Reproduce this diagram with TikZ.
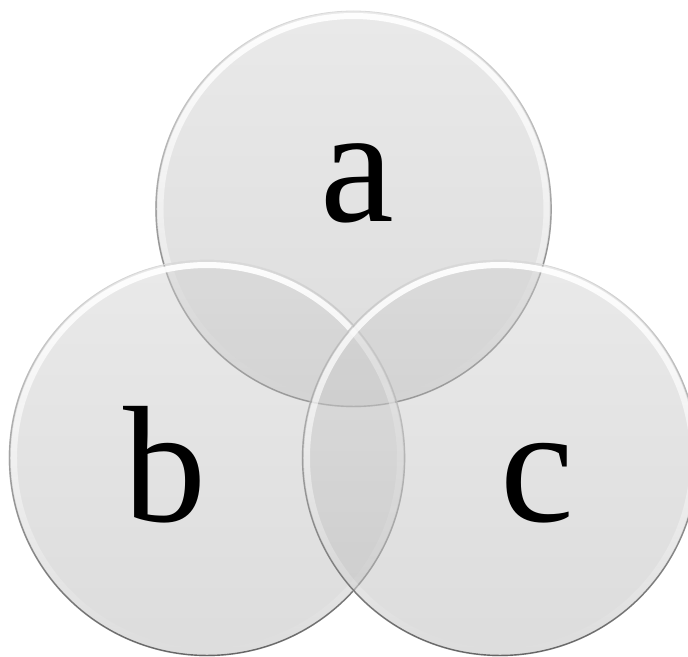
\documentclass[tikz,border=0pt]{standalone}
\usepackage{fontspec}
\setmainfont{Liberation Serif}
\usetikzlibrary{fadings}
\definecolor{fillTop}{HTML}{D4D4D4}
\definecolor{fillBot}{HTML}{BABABA}
\tikzset{
  x=1pt, y=1pt,
  setbody/.style={top color=fillTop, bottom color=fillBot, fill opacity=0.5, draw=none},
  rimlight/.style={draw=white, line width=6pt, path fading=south, opacity=0.95},
  rimout/.style={draw=black!14, line width=0.8pt},
  rimdark/.style={draw=black!60, line width=1.4pt, path fading=north},
  biglabel/.style={inner sep=0pt, anchor=base, font=\fontsize{166}{166}\selectfont, text=black}
}
\newcommand{\vennset}[1]{%
  \shade[setbody] (#1) circle[radius=198];
  \draw[rimlight] (#1) circle[radius=193];
  \draw[rimout] (#1) circle[radius=198];
  \draw[rimdark] (#1) circle[radius=197.5];
}
\begin{document}
\begin{tikzpicture}
\useasboundingbox (0,0) rectangle (688,656);
\coordinate (ca) at (353.5,447);
\coordinate (cb) at (207,198);
\coordinate (cc) at (500,198);
\vennset{ca}
\vennset{cb}
\vennset{cc}
\node[biglabel] (la) at (357,434) {a};
\node[biglabel] (lb) at (165,134) {b};
\node[biglabel] (lc) at (537,134) {c};
\end{tikzpicture}
\end{document}
